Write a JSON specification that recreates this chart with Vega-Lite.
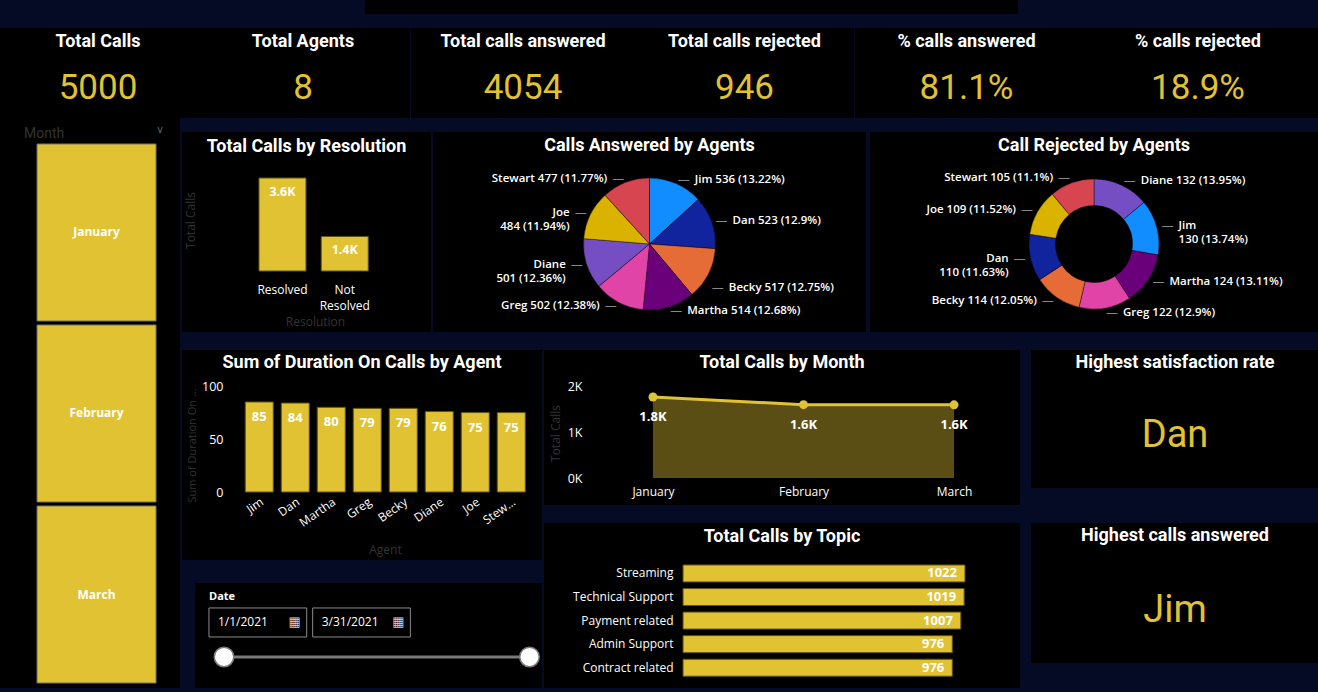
{
  "$schema": "https://vega.github.io/schema/vega-lite/v6.json",
  "background": "#060b25",
  "padding": 0,
  "spacing": 0,
  "config": {
    "view": {"stroke": null},
    "concat": {"spacing": 0},
    "font": "Open Sans",
    "title": {"color": "#ffffff", "font": "Roboto", "fontWeight": "bold", "fontSize": 18, "anchor": "middle", "frame": "group", "baseline": "alphabetic"},
    "axis": {"grid": false, "domain": false, "ticks": false, "labelColor": "#ffffff", "labelFont": "Open Sans", "labelFontSize": 12, "titleColor": "#333333", "titleFont": "Open Sans", "titleFontWeight": "normal", "titleFontSize": 12, "labelOverlap": false},
    "text": {"font": "Open Sans"}
  },
  "vconcat": [
    {"spacing": 0, "hconcat": [
      {"width": 365, "height": 28, "data": {"values": [{}]}, "mark": {"type": "text", "text": ""}},
      {"width": 653, "height": 14, "view": {"fill": "#000000"}, "data": {"values": [{}]}, "mark": {"type": "text", "text": ""}}
    ]},
    {"spacing": 0, "hconcat": [
      {"width": 196, "height": 90, "view": {"fill": "#000000"}, "title": {"text": "Total Calls", "offset": -23},
       "data": {"values": [{"value": 5000}]},
       "mark": {"type": "text", "font": "Roboto", "fontSize": 35, "color": "#E1C233", "baseline": "middle", "dy": 15},
       "encoding": {"text": {"field": "value", "type": "quantitative", "format": "d"}}},
      {"width": 214, "height": 90, "view": {"fill": "#000000"}, "title": {"text": "Total Agents", "offset": -23},
       "data": {"values": [{"value": 8}]},
       "mark": {"type": "text", "font": "Roboto", "fontSize": 35, "color": "#E1C233", "baseline": "middle", "dy": 15},
       "encoding": {"text": {"field": "value", "type": "quantitative", "format": "d"}}},
      {"width": 1, "height": 90, "data": {"values": [{}]}, "mark": {"type": "text", "text": ""}},
      {"width": 224, "height": 90, "view": {"fill": "#000000"}, "title": {"text": "Total calls answered", "offset": -23},
       "data": {"values": [{"value": 4054}]},
       "mark": {"type": "text", "font": "Roboto", "fontSize": 35, "color": "#E1C233", "baseline": "middle", "dy": 15},
       "encoding": {"text": {"field": "value", "type": "quantitative", "format": "d"}}},
      {"width": 219, "height": 90, "view": {"fill": "#000000"}, "title": {"text": "Total calls rejected", "offset": -23},
       "data": {"values": [{"value": 946}]},
       "mark": {"type": "text", "font": "Roboto", "fontSize": 35, "color": "#E1C233", "baseline": "middle", "dy": 15},
       "encoding": {"text": {"field": "value", "type": "quantitative", "format": "d"}}},
      {"width": 1, "height": 90, "data": {"values": [{}]}, "mark": {"type": "text", "text": ""}},
      {"width": 223, "height": 90, "view": {"fill": "#000000"}, "title": {"text": "% calls answered", "offset": -23},
       "data": {"values": [{"value": 0.8108}]},
       "mark": {"type": "text", "font": "Roboto", "fontSize": 35, "color": "#E1C233", "baseline": "middle", "dy": 15},
       "encoding": {"text": {"field": "value", "type": "quantitative", "format": ".1%"}}},
      {"width": 240, "height": 90, "view": {"fill": "#000000"}, "title": {"text": "% calls rejected", "offset": -23},
       "data": {"values": [{"value": 0.1892}]},
       "mark": {"type": "text", "font": "Roboto", "fontSize": 35, "color": "#E1C233", "baseline": "middle", "dy": 15},
       "encoding": {"text": {"field": "value", "type": "quantitative", "format": ".1%"}}}
    ]},
    {"spacing": 0, "hconcat": [
      {"width": 180, "height": 570, "view": {"fill": "#000000"},
       "title": {"text": "Month", "anchor": "start", "dx": 24, "offset": -23, "font": "Roboto", "fontWeight": "normal", "fontSize": 14, "color": "#333333"},
       "data": {"values": [{"month": "January"}, {"month": "February"}, {"month": "March"}]},
       "encoding": {
         "y": {"field": "month", "type": "nominal", "sort": null, "axis": null, "scale": {"paddingInner": 0.022, "paddingOuter": 0.0855, "align": 0.839}},
         "x": {"datum": "Month", "type": "nominal", "axis": null, "scale": {"paddingInner": 0, "paddingOuter": 0.2563, "align": 0.607}}
       },
       "layer": [
         {"mark": {"type": "rect", "color": "#E1C233", "stroke": "#707070", "strokeWidth": 1}},
         {"mark": {"type": "text", "color": "#ffffff", "fontWeight": "bold", "fontSize": 12, "font": "Open Sans"}, "encoding": {"text": {"field": "month", "type": "nominal"}}},
         {"transform": [{"filter": "datum.month == 'January'"}],
          "mark": {"type": "text", "text": "∨", "font": "DejaVu Sans", "fontSize": 11, "color": "#5a5a5a", "baseline": "middle", "dx": 4, "dy": -14},
          "encoding": {
            "x": {"datum": "Month", "type": "nominal", "bandPosition": 1, "axis": null, "scale": {"type": "band", "paddingInner": 0, "paddingOuter": 0.2563, "align": 0.607}},
            "y": {"field": "month", "type": "nominal", "bandPosition": 0, "axis": null, "scale": {"type": "band", "paddingInner": 0.022, "paddingOuter": 0.0855, "align": 0.839}}}}
       ]},
      {"spacing": 0, "vconcat": [
        {"width": 1138, "height": 14, "data": {"values": [{}]}, "mark": {"type": "text", "text": ""}},
        {"spacing": 0, "hconcat": [
          {"width": 2, "height": 200, "data": {"values": [{}]}, "mark": {"type": "text", "text": ""}},
          {"width": 249, "height": 200, "view": {"fill": "#000000"},
           "title": {"text": "Total Calls by Resolution", "offset": -24},
           "data": {"values": [{"resolution": "Resolved", "calls": 3646}, {"resolution": "Not Resolved", "calls": 1354}]},
           "encoding": {
             "x": {"field": "resolution", "type": "nominal", "sort": null,
                   "scale": {"paddingInner": 0, "paddingOuter": 1, "align": 0.557},
                   "axis": {"offset": -61, "labelAngle": 0, "labelPadding": 13, "labelExpr": "split(datum.label, ' ')", "labelFontSize": 12, "labelLineHeight": 16, "labelBaseline": "top", "title": "Resolution", "titleX": 133, "titleY": 50, "titleBaseline": "middle"}},
             "y": {"field": "calls", "type": "quantitative", "scale": {"domain": [-2391.5, 5449.5], "nice": false, "zero": false},
                   "axis": {"labels": false, "title": "Total Calls", "titleX": 8, "titleY": 88, "titleBaseline": "middle"}}
           },
           "layer": [
             {"mark": {"type": "bar", "color": "#E1C233", "stroke": "#5f5417", "strokeWidth": 1, "width": {"band": 0.755}}},
             {"mark": {"type": "text", "color": "#ffffff", "fontWeight": "bold", "fontSize": 12.5, "baseline": "middle", "dy": 14, "text": {"expr": "upper(format(datum.calls, '.2s'))"}}}
           ]},
          {"width": 2, "height": 200, "data": {"values": [{}]}, "mark": {"type": "text", "text": ""}},
          {"spacing": 0, "vconcat": [
            {"width": 433, "height": 24, "view": {"fill": "#000000"}, "title": {"text": "Calls Answered by Agents", "offset": -23}, "data": {"values": [{}]}, "mark": {"type": "text", "text": ""}},
            {"width": 433, "height": 176, "view": {"fill": "#000000"},
             "data": {"values": [
               {"agent": "Jim", "answered": 536, "label": "Jim 536 (13.22%)"},
               {"agent": "Dan", "answered": 523, "label": "Dan 523 (12.9%)"},
               {"agent": "Becky", "answered": 517, "label": "Becky 517 (12.75%)"},
               {"agent": "Martha", "answered": 514, "label": "Martha 514 (12.68%)"},
               {"agent": "Greg", "answered": 502, "label": "Greg 502 (12.38%)"},
               {"agent": "Diane", "answered": 501, "label": "Diane\n501 (12.36%)"},
               {"agent": "Joe", "answered": 484, "label": "Joe\n484 (11.94%)"},
               {"agent": "Stewart", "answered": 477, "label": "Stewart 477 (11.77%)"}
             ]},
             "encoding": {
               "theta": {"field": "answered", "type": "quantitative", "stack": true},
               "order": {"field": "answered", "type": "quantitative", "sort": "descending"}
             },
             "layer": [
               {"mark": {"type": "arc", "outerRadius": 66, "stroke": "#000000", "strokeWidth": 0.4},
                "encoding": {"color": {"field": "agent", "type": "nominal", "legend": null,
                  "scale": {"domain": ["Jim", "Dan", "Becky", "Martha", "Greg", "Diane", "Joe", "Stewart"],
                            "range": ["#118DFF", "#12239E", "#E66C37", "#6B007B", "#E044A7", "#744EC2", "#D9B300", "#D64550"]}}}},
               {"mark": {"type": "text", "text": "—", "font": "DejaVu Sans", "fontSize": 12, "color": "#8a8a8a", "radius": 70, "baseline": "middle",
                         "align": {"expr": "indexof(['Greg','Diane','Joe','Stewart'], datum.agent) >= 0 ? 'right' : 'left'"},
                         "dy": {"expr": "datum.agent == 'Becky' ? 12 : 0"}}},
               {"mark": {"type": "text", "radius": 70, "font": "Open Sans", "fontSize": 11.5, "fontWeight": 600, "color": "#ffffff", "baseline": "middle", "lineBreak": "\n", "lineHeight": 14,
                         "align": {"expr": "indexof(['Greg','Diane','Joe','Stewart'], datum.agent) >= 0 ? 'right' : 'left'"},
                         "dx": {"expr": "indexof(['Greg','Diane','Joe','Stewart'], datum.agent) >= 0 ? -17 : 17"},
                         "dy": {"expr": "datum.agent == 'Becky' ? 12 : 0"}},
                "encoding": {"text": {"field": "label", "type": "nominal"}}}
             ]}
          ]},
          {"width": 4, "height": 200, "data": {"values": [{}]}, "mark": {"type": "text", "text": ""}},
          {"spacing": 0, "vconcat": [
            {"width": 448, "height": 24, "view": {"fill": "#000000"}, "title": {"text": "Call Rejected by Agents", "offset": -23}, "data": {"values": [{}]}, "mark": {"type": "text", "text": ""}},
            {"width": 448, "height": 176, "view": {"fill": "#000000"},
             "data": {"values": [
               {"agent": "Diane", "rejected": 132, "label": "Diane 132 (13.95%)"},
               {"agent": "Jim", "rejected": 130, "label": "Jim\n130 (13.74%)"},
               {"agent": "Martha", "rejected": 124, "label": "Martha 124 (13.11%)"},
               {"agent": "Greg", "rejected": 122, "label": "Greg 122 (12.9%)"},
               {"agent": "Becky", "rejected": 114, "label": "Becky 114 (12.05%)"},
               {"agent": "Dan", "rejected": 110, "label": "Dan\n110 (11.63%)"},
               {"agent": "Joe", "rejected": 109, "label": "Joe 109 (11.52%)"},
               {"agent": "Stewart", "rejected": 105, "label": "Stewart 105 (11.1%)"}
             ]},
             "encoding": {
               "theta": {"field": "rejected", "type": "quantitative", "stack": true},
               "order": {"field": "rejected", "type": "quantitative", "sort": "descending"}
             },
             "layer": [
               {"mark": {"type": "arc", "outerRadius": 65, "innerRadius": 38.5, "stroke": "#000000", "strokeWidth": 0.4},
                "encoding": {"color": {"field": "agent", "type": "nominal", "legend": null,
                  "scale": {"domain": ["Jim", "Dan", "Becky", "Martha", "Greg", "Diane", "Joe", "Stewart"],
                            "range": ["#118DFF", "#12239E", "#E66C37", "#6B007B", "#E044A7", "#744EC2", "#D9B300", "#D64550"]}}}},
               {"mark": {"type": "text", "text": "—", "font": "DejaVu Sans", "fontSize": 12, "color": "#8a8a8a", "radius": 70, "baseline": "middle",
                         "align": {"expr": "indexof(['Becky','Dan','Joe','Stewart'], datum.agent) >= 0 ? 'right' : 'left'"}}},
               {"mark": {"type": "text", "radius": 70, "font": "Open Sans", "fontSize": 11.5, "fontWeight": 600, "color": "#ffffff", "baseline": "middle", "lineBreak": "\n", "lineHeight": 14,
                         "align": {"expr": "indexof(['Becky','Dan','Joe','Stewart'], datum.agent) >= 0 ? 'right' : 'left'"},
                         "dx": {"expr": "indexof(['Becky','Dan','Joe','Stewart'], datum.agent) >= 0 ? -17 : 17"}},
                "encoding": {"text": {"field": "label", "type": "nominal"}}}
             ]}
          ]}
        ]},
        {"width": 1138, "height": 18, "data": {"values": [{}]}, "mark": {"type": "text", "text": ""}},
        {"spacing": 0, "hconcat": [
          {"width": 2, "height": 338, "data": {"values": [{}]}, "mark": {"type": "text", "text": ""}},
          {"spacing": 0, "vconcat": [
            {"width": 360, "height": 210, "view": {"fill": "#000000"},
             "title": {"text": "Sum of Duration On Calls by Agent", "offset": -22},
             "data": {"values": [
               {"agent": "Jim", "duration": 85}, {"agent": "Dan", "duration": 84}, {"agent": "Martha", "duration": 80}, {"agent": "Greg", "duration": 79},
               {"agent": "Becky", "duration": 79}, {"agent": "Diane", "duration": 76}, {"agent": "Joe", "duration": 75}, {"agent": "Stewart", "duration": 75}
             ]},
             "encoding": {
               "x": {"field": "agent", "type": "nominal", "sort": null,
                     "scale": {"paddingInner": 0, "paddingOuter": 1, "align": 0.823},
                     "axis": {"offset": -68, "labelAngle": -35, "labelPadding": 4, "labelFontSize": 12,
                              "labelExpr": "length(datum.label) > 6 ? slice(datum.label, 0, 4) + '...' : datum.label",
                              "title": "Agent", "titleX": 203, "titleY": 57, "titleBaseline": "middle"}},
               "y": {"field": "duration", "type": "quantitative", "scale": {"domain": [-64.2, 134.1], "nice": false, "zero": false},
                     "axis": {"offset": -43, "values": [0, 50, 100], "labelPadding": 2, "labelFontSize": 12.5,
                              "title": "Sum of Duration On ...", "titleX": -33, "titleY": 95, "titleBaseline": "middle", "titleFontSize": 11}}
             },
             "layer": [
               {"mark": {"type": "bar", "color": "#E1C233", "stroke": "#5f5417", "strokeWidth": 1, "width": {"band": 0.778}}},
               {"mark": {"type": "text", "color": "#ffffff", "fontWeight": "bold", "fontSize": 13, "baseline": "middle", "dy": 15},
                "encoding": {"text": {"field": "duration", "type": "quantitative"}}}
             ]},
            {"width": 360, "height": 23, "data": {"values": [{}]}, "mark": {"type": "text", "text": ""}},
            {"spacing": 0, "hconcat": [
              {"width": 13, "height": 105, "data": {"values": [{}]}, "mark": {"type": "text", "text": ""}},
              {"width": 347, "height": 105, "view": {"fill": "#000000"},
               "title": {"text": "Date", "anchor": "start", "dx": 14, "offset": -19, "font": "Open Sans", "fontSize": 11, "fontWeight": "bold"},
               "data": {"values": [{"box": "from", "text": "1/1/2021", "date": "2021-01-01"}, {"box": "to", "text": "3/31/2021", "date": "2021-03-31"}]},
               "resolve": {"scale": {"x": "independent"}},
               "layer": [
                 {"mark": {"type": "rect", "fill": "#000000", "stroke": "#8a8a8a", "strokeWidth": 1},
                  "encoding": {
                    "x": {"field": "box", "type": "nominal", "axis": null, "scale": {"type": "band", "paddingInner": 0.0577, "paddingOuter": 0.702, "align": 0.0959}},
                    "y": {"datum": "inputs", "type": "nominal", "axis": null, "scale": {"type": "band", "domain": ["inputs", "slider"], "paddingInner": 0.159, "paddingOuter": 0.601, "align": 0.602}}}},
                 {"mark": {"type": "text", "align": "left", "dx": 9, "fontSize": 12, "color": "#ffffff", "baseline": "middle"},
                  "encoding": {
                    "x": {"field": "box", "type": "nominal", "bandPosition": 0, "axis": null, "scale": {"type": "band", "paddingInner": 0.0577, "paddingOuter": 0.702, "align": 0.0959}},
                    "y": {"datum": "inputs", "type": "nominal", "axis": null, "scale": {"type": "band", "domain": ["inputs", "slider"], "paddingInner": 0.159, "paddingOuter": 0.601, "align": 0.602}},
                    "text": {"field": "text", "type": "nominal"}}},
                 {"mark": {"type": "text", "text": "▦", "font": "DejaVu Sans", "align": "center", "dx": -12, "fontSize": 13, "color": "#cfcfcf", "baseline": "middle"},
                  "encoding": {
                    "x": {"field": "box", "type": "nominal", "bandPosition": 1, "axis": null, "scale": {"type": "band", "paddingInner": 0.0577, "paddingOuter": 0.702, "align": 0.0959}},
                    "y": {"datum": "inputs", "type": "nominal", "axis": null, "scale": {"type": "band", "domain": ["inputs", "slider"], "paddingInner": 0.159, "paddingOuter": 0.601, "align": 0.602}}}},
                 {"mark": {"type": "rule", "color": "#7a7a7a", "strokeWidth": 3},
                  "encoding": {
                    "x": {"aggregate": "min", "field": "date", "type": "temporal", "axis": null,
                          "scale": {"domain": [{"year": 2020, "month": 12, "date": 23, "hours": 13, "minutes": 13, "utc": true}, {"year": 2021, "month": 4, "date": 3, "hours": 15, "minutes": 22, "utc": true}]}},
                    "x2": {"aggregate": "max", "field": "date"},
                    "y": {"datum": "slider", "type": "nominal", "axis": null, "scale": {"type": "band", "domain": ["inputs", "slider"], "paddingInner": 0.159, "paddingOuter": 0.601, "align": 0.602}}}},
                 {"mark": {"type": "point", "filled": true, "fill": "#ffffff", "stroke": "#7a7a7a", "strokeWidth": 1.5, "size": 380, "opacity": 1},
                  "encoding": {
                    "x": {"field": "date", "type": "temporal", "axis": null,
                          "scale": {"domain": [{"year": 2020, "month": 12, "date": 23, "hours": 13, "minutes": 13, "utc": true}, {"year": 2021, "month": 4, "date": 3, "hours": 15, "minutes": 22, "utc": true}]}},
                    "y": {"datum": "slider", "type": "nominal", "axis": null, "scale": {"type": "band", "domain": ["inputs", "slider"], "paddingInner": 0.159, "paddingOuter": 0.601, "align": 0.602}}}}
               ]}
            ]}
          ]},
          {"width": 1, "height": 338, "data": {"values": [{}]}, "mark": {"type": "text", "text": ""}},
          {"spacing": 0, "vconcat": [
            {"width": 476, "height": 155, "view": {"fill": "#000000"},
             "title": {"text": "Total Calls by Month", "offset": -22},
             "data": {"values": [{"month": "January", "calls": 1780}, {"month": "February", "calls": 1612}, {"month": "March", "calls": 1608}]},
             "encoding": {
               "x": {"field": "month", "type": "ordinal", "sort": null, "scale": {"type": "point", "padding": 0.581, "align": 0.623},
                     "axis": {"offset": -27, "labelPadding": 8, "labelAngle": 0, "title": null}},
               "y": {"field": "calls", "type": "quantitative", "scale": {"domain": [-593, 2813], "nice": false, "zero": false},
                     "axis": {"offset": -40, "values": [0, 1000, 2000], "labelExpr": "(datum.value / 1000) + 'K'", "labelPadding": 2, "labelFontSize": 12.5,
                              "title": "Total Calls", "titleX": -29, "titleY": 83, "titleBaseline": "middle"}}
             },
             "layer": [
               {"mark": {"type": "area", "color": "#E1C233", "opacity": 0.4}},
               {"mark": {"type": "line", "color": "#E1C233", "strokeWidth": 3}},
               {"mark": {"type": "point", "filled": true, "color": "#E1C233", "size": 80, "opacity": 1}},
               {"mark": {"type": "text", "color": "#ffffff", "fontWeight": "bold", "fontSize": 13, "baseline": "middle", "dy": 20, "text": {"expr": "upper(format(datum.calls, '.2s'))"}}}
             ]},
            {"width": 476, "height": 18, "data": {"values": [{}]}, "mark": {"type": "text", "text": ""}},
            {"width": 476, "height": 165, "view": {"fill": "#000000"},
             "title": {"text": "Total Calls by Topic", "offset": -23},
             "data": {"values": [
               {"topic": "Streaming", "calls": 1022}, {"topic": "Technical Support", "calls": 1019}, {"topic": "Payment related", "calls": 1007},
               {"topic": "Admin Support", "calls": 976}, {"topic": "Contract related", "calls": 976}
             ]},
             "encoding": {
               "y": {"field": "topic", "type": "nominal", "sort": null, "scale": {"paddingInner": 0, "paddingOuter": 1, "align": 0.82},
                     "axis": {"offset": -139, "labelPadding": 10, "labelFontSize": 12, "title": null}},
               "x": {"field": "calls", "type": "quantitative", "scale": {"domain": [-504, 1221.5], "nice": false, "zero": false}, "axis": null}
             },
             "layer": [
               {"mark": {"type": "bar", "color": "#E1C233", "stroke": "#5f5417", "strokeWidth": 1, "height": {"band": 0.72}}},
               {"mark": {"type": "text", "color": "#ffffff", "fontWeight": "bold", "fontSize": 13, "align": "right", "dx": -8, "baseline": "middle"},
                "encoding": {"text": {"field": "calls", "type": "quantitative"}}}
             ]}
          ]},
          {"width": 11, "height": 338, "data": {"values": [{}]}, "mark": {"type": "text", "text": ""}},
          {"spacing": 0, "vconcat": [
            {"width": 288, "height": 138, "view": {"fill": "#000000"}, "title": {"text": "Highest satisfaction rate", "offset": -22},
             "data": {"values": [{"agent": "Dan"}]},
             "mark": {"type": "text", "font": "Roboto", "fontSize": 38, "color": "#E1C233", "baseline": "middle", "dy": 16.5},
             "encoding": {"text": {"field": "agent", "type": "nominal"}}},
            {"width": 288, "height": 35, "data": {"values": [{}]}, "mark": {"type": "text", "text": ""}},
            {"width": 288, "height": 140, "view": {"fill": "#000000"}, "title": {"text": "Highest calls answered", "offset": -22},
             "data": {"values": [{"agent": "Jim"}]},
             "mark": {"type": "text", "font": "Roboto", "fontSize": 38, "color": "#E1C233", "baseline": "middle", "dy": 17.5},
             "encoding": {"text": {"field": "agent", "type": "nominal"}}}
          ]}
        ]}
      ]}
    ]},
    {"width": 1318, "height": 4, "view": {"fill": "#4a4a4a"}, "data": {"values": [{}]}, "mark": {"type": "text", "text": ""}}
  ]
}
